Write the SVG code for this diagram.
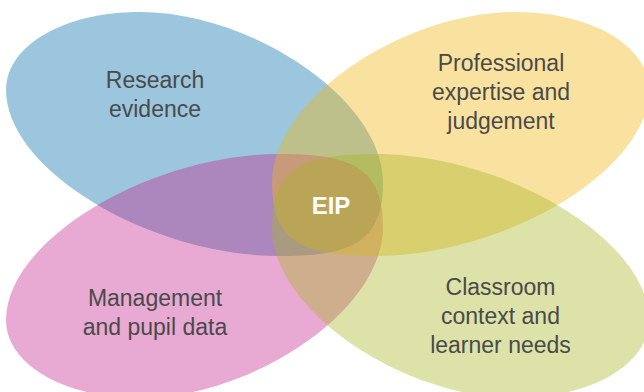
<svg xmlns="http://www.w3.org/2000/svg" xmlns:xlink="http://www.w3.org/1999/xlink" width="644" height="392" viewBox="0 0 644 392">
  <style>
    .petal { fill-opacity: 0.4; stroke: none; }
    .label { font-family: "Liberation Sans", Arial, sans-serif; font-size: 23px; fill: #4a4a4a; text-anchor: middle; }
    .core { font-family: "Liberation Sans", Arial, sans-serif; font-size: 24px; font-weight: bold; fill: #ffffff; text-anchor: middle; }
  </style>
  <defs>
    <path id="petal" d="M6,90 C6,45 65,12 140,12 C250,12 383,98 383,183 C383,243 350,256 280,256 C150,256 6,170 6,90 Z"/>
  </defs>
  <rect x="0" y="0" width="644" height="392" fill="#ffffff"/>
  <g id="research">
    <use xlink:href="#petal" href="#petal" class="petal" fill="#0570AA"/>
    <text class="label" x="155" y="88">Research</text>
    <text class="label" x="155" y="117">evidence</text>
  </g>
  <g id="management">
    <use xlink:href="#petal" href="#petal" class="petal" fill="#C62891" transform="translate(0,410) scale(1,-1)"/>
    <text class="label" x="155" y="306">Management</text>
    <text class="label" x="155" y="335">and pupil data</text>
  </g>
  <g id="professional">
    <use xlink:href="#petal" href="#petal" class="petal" fill="#F0B611" transform="translate(655,0) scale(-1,1)"/>
    <text class="label" x="501" y="71">Professional</text>
    <text class="label" x="501" y="100">expertise and</text>
    <text class="label" x="501" y="129">judgement</text>
  </g>
  <g id="classroom">
    <use xlink:href="#petal" href="#petal" class="petal" fill="#A8B726" transform="translate(655,410) scale(-1,-1)"/>
    <text class="label" x="500.5" y="295">Classroom</text>
    <text class="label" x="500.5" y="324">context and</text>
    <text class="label" x="500.5" y="353">learner needs</text>
  </g>
  <g id="connectors"></g>
  <g id="eip">
    <text class="core" x="331" y="214">EIP</text>
  </g>
</svg>
